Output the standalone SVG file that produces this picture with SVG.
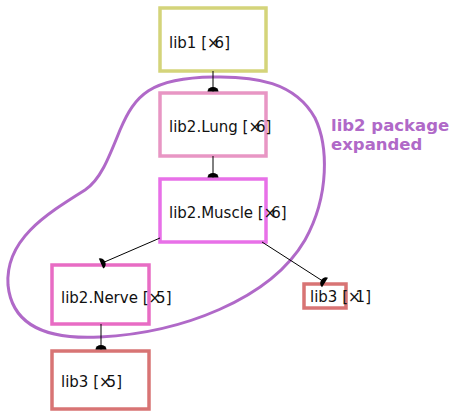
<svg xmlns="http://www.w3.org/2000/svg" width="450" height="418" viewBox="0 0 450 418">
<defs>
<marker id="dot" viewBox="-7 -7 14 14" markerWidth="14" markerHeight="14" refX="0" refY="0" orient="auto" markerUnits="userSpaceOnUse">
<path d="M0,-5.5 A4.5,5.5 0 0 0 0,5.5 Z" fill="#000"/>
</marker>
<style>
.n{fill:#fff;stroke-width:3.5}
.t{font-family:"DejaVu Sans",sans-serif;font-size:15px;fill:#111}
.e{stroke:#000;stroke-width:1;fill:none;marker-end:url(#dot)}
.l{font-family:"DejaVu Sans",sans-serif;font-weight:bold;font-size:16.5px;fill:#b069c8}
</style>
</defs>
<rect width="450" height="418" fill="#fff"/>
<g id="cluster">
<path d="M213,77 C150,78 135,95 120,130 C108,160 100,180 85,190 C45,215 5,240 8,285 C12,325 45,340 100,337 C180,333 270,300 305,240 C330,195 328,145 315,118 C295,82 255,76 213,77 Z" fill="none" stroke="#b069c8" stroke-width="3"/>
<text class="l" x="331" y="131">lib2 package</text>
<text class="l" x="331" y="150">expanded</text>
</g>
<g id="lib1"><rect class="n" x="160" y="8" width="106" height="63" stroke="#d4d47a"/><text class="t" x="169" y="48">lib1 [×<tspan dx="-5">6</tspan>]</text></g>
<g id="lung"><rect class="n" x="160" y="93" width="106" height="63" stroke="#e896c4"/><text class="t" x="169" y="132">lib2.Lung [×<tspan dx="-5">6</tspan>]</text></g>
<g id="muscle"><rect class="n" x="160" y="179" width="106" height="63" stroke="#e870e8"/><text class="t" x="169" y="218">lib2.Muscle [×<tspan dx="-5">6</tspan>]</text></g>
<g id="nerve"><rect class="n" x="52" y="265" width="97" height="59" stroke="#e86cc4"/><text class="t" x="61" y="303">lib2.Nerve [×<tspan dx="-5">5</tspan>]</text></g>
<g id="lib3a"><rect class="n" x="304" y="284" width="42" height="24" stroke="#d87474"/><text class="t" x="310" y="302">lib3 [×<tspan dx="-5">1</tspan>]</text></g>
<g id="lib3b"><rect class="n" x="52" y="351" width="97" height="58" stroke="#d87474"/><text class="t" x="61" y="387">lib3 [×<tspan dx="-5">5</tspan>]</text></g>
<g id="edges">
<path class="e" d="M213,71 L213,91.5"/>
<path class="e" d="M213,156 L213,177.5"/>
<path class="e" d="M160,238 L101,263.5"/>
<path class="e" d="M262,242 L325,282.5"/>
<path class="e" d="M101,324 L101,349.5"/>
</g>
</svg>
